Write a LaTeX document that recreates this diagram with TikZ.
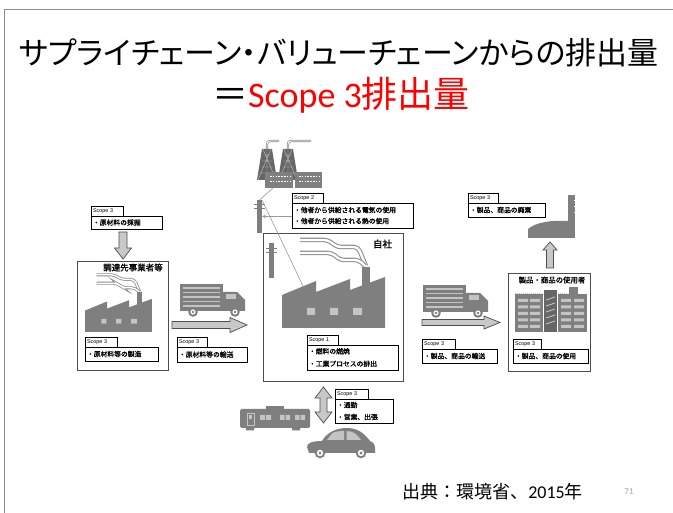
\documentclass[tikz,border=0pt]{standalone}
\usepackage{fontspec}
\newfontfamily\jpfont{Noto Sans CJK JP}
\newfontfamily\jppfont{Noto Sans CJK JP}[RawFeature=+palt]
\newfontfamily\jpbfont{Noto Sans CJK JP}[FakeBold=1.2]
\newfontfamily\latfont{Carlito}
\newfontfamily\tabfont{Liberation Sans}

\definecolor{icon}{HTML}{7F7F7F}
\definecolor{icondark}{HTML}{666666}
\definecolor{winlight}{HTML}{C4C4C4}
\definecolor{smokegray}{HTML}{8C8C8C}
\definecolor{arrowfill}{HTML}{C8C8C8}
\definecolor{arrowline}{HTML}{4D4D4D}
\definecolor{framegray}{HTML}{8C8C8C}
\definecolor{wiregray}{HTML}{9A9A9A}
\definecolor{pagegray}{HTML}{A6A6A6}

% factory: #1 origin (bottom-left of the hall), #2 scale, #3/#4 smoke band widths
\newcommand\drawfactory[4]{%
  \begin{scope}[shift={#1},scale=#2]
    \draw[smokegray,line width=#3,rounded corners=4] (18,-88) -- (46,-88) -- (55,-81) -- (76,-81) -- (84,-62);
    \draw[white,line width=#4,rounded corners=4] (18,-88) -- (46,-88) -- (55,-81) -- (76,-81) -- (84,-62);
    \draw[smokegray,line width=#3,rounded corners=4] (18,-75) -- (50,-75) -- (58,-68) -- (77,-68) -- (83,-62);
    \draw[white,line width=#4,rounded corners=4] (18,-75) -- (50,-75) -- (58,-68) -- (77,-68) -- (83,-62);
    \fill[icon] (80,-40) rectangle (88,-61);
    \fill[icon] (0,0) -- (0,-33) -- (34,-47) -- (34,-36) -- (68,-49) -- (68,-38) -- (103,-51) -- (103,0) -- cycle;
    \fill[winlight] (25,-13) rectangle (33,-20) (48,-13) rectangle (56,-20) (71,-13) rectangle (80,-20);
  \end{scope}}

% delivery truck: #1 top-left corner of the cargo box
\newcommand\drawtruck[1]{%
  \begin{scope}[shift={#1}]
    \fill[icon] (0,0) rectangle (43,25);
    \foreach \yy in {4,8.5,13,17.5,22} \draw[winlight,line width=1.3] (3,\yy) -- (40,\yy);
    \fill[icon] (43,8) -- (57,8) -- (65,16) -- (65,26) -- (43,26) -- cycle;
    \fill[icon] (0,24) rectangle (65,27);
    \fill[winlight] (46,10.5) rectangle (56,15.5);
    \foreach \xx in {13,55} {\fill[icon] (\xx,28) circle (4.8); \fill[white] (\xx,28) circle (2.6); \fill[icon] (\xx,28) circle (1.3);}
  \end{scope}}

\tikzset{
  bigbox/.style={draw=arrowline,line width=0.9,fill=white,inner sep=0,outer sep=0,anchor=north west},
  tab/.style={draw=black,line width=0.5,fill=white,inner xsep=2,inner ysep=0,outer sep=0,minimum height=9.5,
    anchor=south west,align=left,font=\tabfont\fontsize{5.4}{6}\selectfont},
  labbox/.style={draw=black,line width=0.5,fill=white,inner xsep=2,inner ysep=1,outer sep=0,anchor=north west,
    align=left,font=\jpbfont\fontsize{6.8}{12}\selectfont},
  blockarrow/.style={fill=arrowfill,draw=arrowline,line width=0.7,line join=miter},
  wire/.style={draw=wiregray,line width=0.6},
  heading/.style={font=\jpbfont\fontsize{8.5}{9}\selectfont,inner sep=0},
}

\begin{document}
\begin{tikzpicture}[x=1pt,y=-1pt]
\useasboundingbox (0,0) rectangle (673,513);
\fill[white] (0,0) rectangle (673,513);
\draw[framegray,line width=1.4] (4.5,513) -- (4.5,9.5) -- (673,9.5);

% title
\node[inner sep=0,font=\jppfont\fontsize{31}{31}\selectfont] (title1) at (339,53)
  {サプライチェーン・バリューチェーンからの排出量};
\node[inner sep=0,font=\fontsize{36}{36}\selectfont] (title2) at (341,95)
  {{\jpfont ＝}\textcolor{red}{{\latfont Scope 3}{\jpfont 排出量}}};

% the three organisations
\node[bigbox,minimum width=91,minimum height=109] (supplier) at (77,261) {};
\node[heading] (supplierT) at (133,267.5) {調達先事業者等};
\node[bigbox,minimum width=140,minimum height=148] (own) at (263,233) {};
\node[heading,font=\jpbfont\fontsize{9.5}{10}\selectfont] (ownT) at (382.5,244) {自社};
\node[bigbox,minimum width=82,minimum height=98] (user) at (508,273) {};
\node[heading,font=\jpbfont\fontsize{7.4}{8}\selectfont] (userT) at (552,280) {製品・商品の使用者};

% factories
\drawfactory{(85,332)}{0.65}{3}{1.4}
\drawfactory{(282,328)}{1}{4.5}{2.4}

% power plant
\draw[smokegray,line width=2.4,rounded corners=3] (267,150) -- (267,141) -- (279,141);
\draw[white,line width=0.9,rounded corners=3] (267,150) -- (267,141) -- (279,141);
\draw[smokegray,line width=2.4,rounded corners=3] (288,150) -- (288,141) -- (311,141);
\draw[white,line width=0.9,rounded corners=3] (288,150) -- (288,141) -- (311,141);
\fill[icondark] (262,149) -- (272,149) -- (277,180) -- (257,180) -- cycle;
\fill[icondark] (283,149) -- (293,149) -- (298,180) -- (278,180) -- cycle;
\draw[winlight,line width=0.35] (263,155) -- (271,155) (262,161) -- (272.5,161) (261,167) -- (273.5,167) (260,173) -- (274.5,173)
  (263,149) -- (276,180) (271,149) -- (258,180) (267,149) -- (267,180);
\draw[winlight,line width=0.35] (284,155) -- (292,155) (283,161) -- (293.5,161) (282,167) -- (294.5,167) (281,173) -- (295.5,173)
  (284,149) -- (297,180) (292,149) -- (279,180) (288,149) -- (288,180);
\fill[icon] (265,172) rectangle (293,188);
\fill[icon] (295,172) rectangle (322,188);
\draw[white,line width=1,dash pattern=on 1.5 off 1.3] (270,176.5) -- (291,176.5) (270,181.5) -- (291,181.5)
  (299,176.5) -- (320,176.5) (299,181.5) -- (320,181.5);

% utility poles and power lines
\node[fill=icon,minimum width=5,minimum height=33,inner sep=0,outer sep=0] (pole1) at (259.5,216.5) {};
\draw[icon,line width=0.9] (254,204) -- (265,204) (254,208) -- (265,208);
\node[fill=icon,minimum width=5,minimum height=35,inner sep=0,outer sep=0] (pole2) at (271.5,260.5) {};
\draw[icon,line width=0.9] (266,248) -- (277,248) (266,252) -- (277,252);
\coordinate (plantfoot) at (273,188);
\coordinate (roofpoint) at (303,286);
\draw[wire] (plantfoot) -- (pole1.north);
\draw[wire] (pole1.north east) -- (roofpoint);

% block arrows
\filldraw[blockarrow] (119,232) -- (127,232) -- (127,248) -- (131.5,248) -- (123,259) -- (114.5,248) -- (119,248) -- cycle;
\filldraw[blockarrow] (172,321.5) -- (230,321.5) -- (230,317.5) -- (247,325) -- (230,332.5) -- (230,328.5) -- (172,328.5) -- cycle;
\filldraw[blockarrow] (422,319.5) -- (484,319.5) -- (484,316) -- (500,322.5) -- (484,329) -- (484,325.5) -- (422,325.5) -- cycle;
\filldraw[blockarrow] (546.5,268) -- (553.5,268) -- (553.5,250) -- (557,250) -- (550,242) -- (543,250) -- (546.5,250) -- cycle;
\filldraw[blockarrow] (323.5,387) -- (332,398) -- (327,398) -- (327,412) -- (332,412) -- (323.5,423) -- (315,412) -- (320,412)
  -- (320,398) -- (315,398) -- cycle;

% trucks
\drawtruck{(180,284)}
\drawtruck{(423,285)}

% office buildings of the users
\fill[icon] (515,294) rectangle (543,332);
\fill[icon] (558,294) rectangle (587,332);
\fill[icon] (569,287) rectangle (578,294);
\fill[icondark] (544,290) rectangle (557,332);
\draw[winlight,line width=0.6,dash pattern=on 1 off 1] (515,293) -- (543,293) (558,293) -- (568,293);
\foreach \yy in {299,305.5,312,318.5,325} {
  \fill[winlight] (518,\yy) rectangle (528,\yy+3) (530,\yy) rectangle (540,\yy+3)
                  (561,\yy) rectangle (571,\yy+3) (574,\yy) rectangle (584,\yy+3);}
\draw[winlight,line width=0.8] (546,300) -- (555,297) (546,306) -- (555,303) (546,312) -- (555,309) (546,318) -- (555,315) (546,324) -- (555,321);

% incinerator
\fill[icon] (568,195) rectangle (575,238);
\draw[white,line width=0.6] (574,200) -- (575.5,200) (574,206) -- (575.5,206) (574,212) -- (575.5,212);
\fill[icon] (528,238) -- (528,229) .. controls (536,222) and (552,220) .. (568,221) -- (568,238) -- cycle;

% train
\begin{scope}[shift={(240,409)}]
  \fill[icon] (26,-2.5) rectangle (44,0);
  \fill[icon,rounded corners=1.5] (0,0) rectangle (70,19);
  \fill[icon] (6,19) rectangle (14,21.5) (52,19) rectangle (60,21.5);
  \draw[winlight,line width=0.7] (7,4) rectangle (14,16);
  \fill[winlight] (9,6) rectangle (12,10);
  \fill[winlight] (20,6) rectangle (25,11) (26,6) rectangle (31,11) (40,6) rectangle (44.5,11) (45.5,6) rectangle (50,11)
    (55,6) rectangle (59.5,11) (60.5,6) rectangle (65,11);
\end{scope}

% car
\fill[icon] (309,453) -- (307,447) .. controls (307,443) and (312,441) .. (322,441) .. controls (328,431) and (338,428) .. (347,428)
  .. controls (360,428) and (366,436) .. (370,441) .. controls (374,442) and (376,446) .. (375,453) -- cycle;
\fill[winlight] (327,440) -- (332,433.5) .. controls (335,431.5) and (339,431) .. (344,431) -- (344,440) -- cycle;
\fill[winlight] (346.5,431) .. controls (353,431) and (357,434) .. (361,440) -- (346.5,440) -- cycle;
\foreach \xx in {320,361} {\fill[icon] (\xx,453) circle (5.3); \fill[white] (\xx,453) circle (3.2); \fill[icon] (\xx,453) circle (1.6);}

% emission labels
\node[labbox,text width=67,minimum height=13] (rawMining) at (91,216) {・原材料の採掘};
\node[tab,text width=28] (rawMiningT) at (rawMining.north west) {Scope 3};
\node[labbox,text width=69,minimum height=14] (rawMaking) at (85,347) {・原材料等の製造};
\node[tab,text width=28] (rawMakingT) at (rawMaking.north west) {Scope 3};
\node[labbox,text width=66,minimum height=15] (rawTransport) at (177,347) {・原材料等の輸送};
\node[tab,text width=26] (rawTransportT) at (rawTransport.north west) {Scope 3};
\node[labbox,text width=117,minimum height=25,font=\jpbfont\fontsize{6.8}{11}\selectfont] (energy) at (292,203)
  {・他者から供給される電気の使用\\・他者から供給される熱の使用};
\node[tab,text width=27] (energyT) at (energy.north west) {Scope 2};
\node[labbox,text width=87,minimum height=25,font=\jpbfont\fontsize{6.8}{12.5}\selectfont] (direct) at (307,345)
  {・燃料の燃焼\\・工業プロセスの排出};
\node[tab,text width=27] (directT) at (direct.north west) {Scope 1};
\node[labbox,text width=54,minimum height=24] (commute) at (335,399) {・通勤\\・営業、出張};
\node[tab,text width=29] (commuteT) at (commute.north west) {Scope 3};
\node[labbox,text width=71,minimum height=14] (prodTransport) at (422,349) {・製品、商品の輸送};
\node[tab,text width=29] (prodTransportT) at (prodTransport.north west) {Scope 3};
\node[labbox,text width=71,minimum height=14] (prodUse) at (513,349) {・製品、商品の使用};
\node[tab,text width=24] (prodUseT) at (prodUse.north west) {Scope 3};
\node[labbox,text width=73,minimum height=14] (prodWaste) at (468,203) {・製品、商品の廃棄};
\node[tab,text width=26] (prodWasteT) at (prodWaste.north west) {Scope 3};

% purchased energy flows to the site
\draw[wire,line width=0.7,-{stealth}] (energy.west |- pole1.east) -- (pole1.east);

% source and page number
\node[inner sep=0,font=\fontsize{18}{18}\selectfont] (source) at (492.5,492)
  {{\jpfont 出典：環境省、}{\latfont 2015}{\jpfont 年}};
\node[inner sep=0,font=\latfont\fontsize{9}{9}\selectfont,text=pagegray] (page) at (629,492) {71};
\end{tikzpicture}
\end{document}
